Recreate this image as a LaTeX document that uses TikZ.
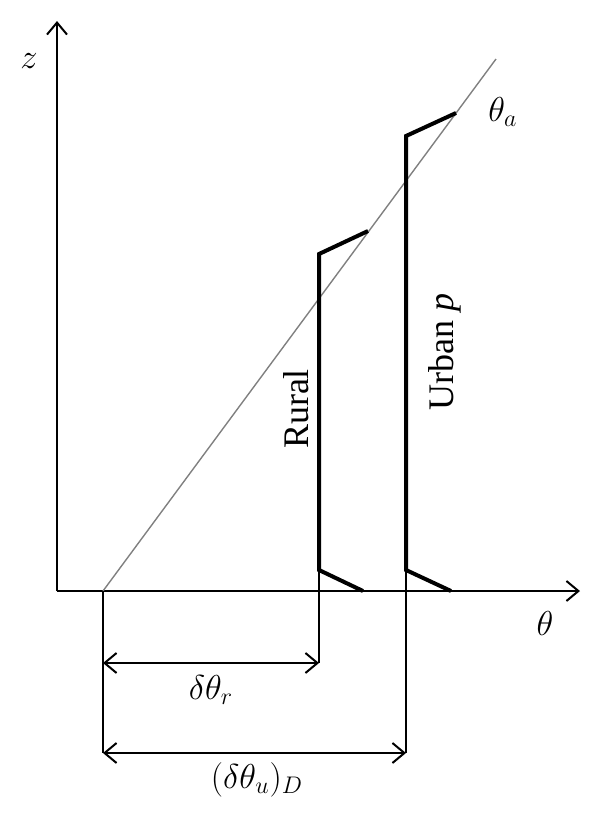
\documentclass[tikz,border=0pt]{standalone}
\usepackage{fontspec}
\setmainfont{Liberation Serif}
\usetikzlibrary{arrows.meta}
\begin{document}
\begin{tikzpicture}[x=0.5pt,y=-0.5pt,
  axis/.style={line width=1pt,-{Straight Barb[length=6pt,width=10pt]}},
  dim/.style={line width=1pt,{Straight Barb[length=6pt,width=10pt]}-{Straight Barb[length=6pt,width=10pt]}},
  ext/.style={line width=1pt},
  profile/.style={line width=2pt,line join=miter},
  adiabat/.style={line width=0.7pt,draw=black!50},
  lbl/.style={inner sep=0pt,font=\fontsize{18}{21}\selectfont},
  mlbl/.style={inner sep=0pt,font=\fontsize{18}{21}\selectfont}]
\useasboundingbox (0,0) rectangle (600,826);
% axes
\coordinate (O) at (57,591);
\coordinate (ztip) at (57,21);
\coordinate (ttip) at (580,591);
\draw[axis] (O) -- (ztip);
\draw[axis] (O) -- (ttip);
% adiabat
\coordinate (A0) at (103,591);
\coordinate (A1) at (496,59);
\draw[adiabat] (A0) -- (A1);
% rural profile
\coordinate (R0) at (363,591);
\coordinate (R1) at (319,570);
\coordinate (R2) at (319,254);
\coordinate (R3) at (368,231);
\draw[profile] (R0) -- (R1) -- (R2) -- (R3);
% urban profile
\coordinate (U0) at (451,591);
\coordinate (U1) at (406,570);
\coordinate (U2) at (406,136);
\coordinate (U3) at (456,113);
\draw[profile] (U0) -- (U1) -- (U2) -- (U3);
% extension lines
\coordinate (E0) at (103,753);
\coordinate (ER) at (319,663);
\coordinate (EU) at (406,753);
\coordinate (DL) at (103,663);
\draw[ext] (A0) -- (E0);
\draw[ext] (R1) -- (ER);
\draw[ext] (U1) -- (EU);
% dimension arrows
\draw[dim] (DL) -- (ER);
\draw[dim] (E0) -- (EU);
% labels
\node[mlbl] (zl) at (29,61) {$z$};
\node[mlbl] (thl) at (545,623) {$\theta$};
\node[mlbl,anchor=west] (tal) at (488,112) {$\theta_a$};
\node[mlbl] (drl) at (211,690) {$\delta\theta_r$};
\node[mlbl] (dul) at (257,780) {$(\delta\theta_u)_D$};
\node[lbl,rotate=90] (rural) at (296,409) {Rural};
\node[lbl,rotate=90] (urban) at (445,352) {Urban \textit{p}};
\end{tikzpicture}
\end{document}
